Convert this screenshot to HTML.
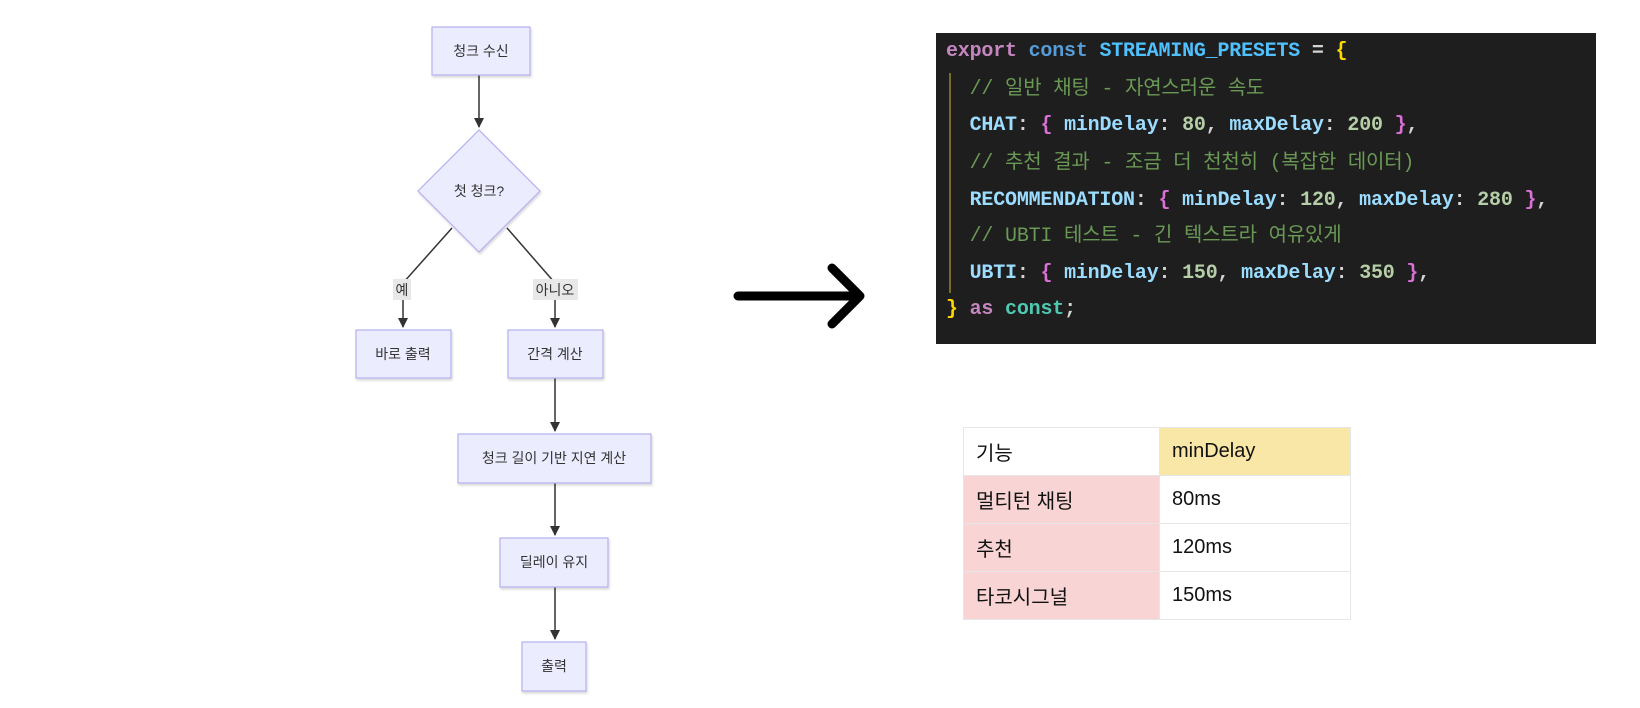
<!DOCTYPE html>
<html><head><meta charset="utf-8"><style>
body{margin:0;width:1640px;height:708px;background:#fff;position:relative;overflow:hidden;font-family:"Liberation Sans","Noto Sans CJK KR",sans-serif}
.code{position:absolute;left:936px;top:33px;width:660px;height:311px;background:#1e1e1e}
.ln{position:absolute;left:10px;font-family:"Liberation Mono","Noto Sans CJK KR",monospace;font-size:20px;font-weight:bold;white-space:pre;line-height:24px;letter-spacing:-0.2px}
.k{color:#c586c0}.c{color:#569cd6}.s{color:#4fc1ff}.p{color:#9cdcfe}.n{color:#b5cea8}.cm{color:#6a9955;font-weight:normal}.y{color:#ffd700}.m{color:#da70d6}.w{color:#d4d4d4}.t{color:#4ec9b0}
table{position:absolute;left:963px;top:427px;border-collapse:collapse;font-family:"Liberation Sans","Noto Sans CJK KR",sans-serif;font-size:20px;color:#111}
td{border:1px solid #e6e6e6;height:48px;padding:0 0 0 12px;box-sizing:border-box}
</style></head><body>
<svg width="1640" height="708" style="position:absolute;left:0;top:0" font-family="Liberation Sans, Noto Sans CJK KR, sans-serif" font-size="14">
<defs><marker id="a" markerWidth="10" markerHeight="10" refX="9" refY="5" orient="auto" markerUnits="userSpaceOnUse"><path d="M0,0L10,5L0,10z" fill="#333"/></marker>
<filter id="sh"><feDropShadow dx="1" dy="2" stdDeviation="1" flood-color="#000" flood-opacity="0.15"/></filter></defs>
<g stroke="#333" stroke-width="1.5" fill="none">
<line x1="479" y1="75" x2="479" y2="127" marker-end="url(#a)"/>
<polyline points="452,228 403,283 403,327" marker-end="url(#a)"/>
<polyline points="507,228 555,283 555,327" marker-end="url(#a)"/>
<line x1="555" y1="378" x2="555" y2="431" marker-end="url(#a)"/>
<line x1="555" y1="483" x2="555" y2="535" marker-end="url(#a)"/>
<line x1="555" y1="587" x2="555" y2="639" marker-end="url(#a)"/>
</g>
<g fill="#ececff" stroke="#b3b0ee" stroke-width="1.2" filter="url(#sh)">
<rect x="432" y="27" width="98" height="48"/>
<polygon points="479,130 540,191 479,252 418,191"/>
<rect x="356" y="330" width="95" height="48"/>
<rect x="508" y="330" width="95" height="48"/>
<rect x="458" y="434" width="193" height="49"/>
<rect x="500" y="538" width="108" height="49"/>
<rect x="522" y="642" width="64" height="49"/>
</g>
<rect x="393" y="279" width="18" height="21" fill="#e8e8e8"/>
<rect x="533" y="279" width="45" height="21" fill="#e8e8e8"/>
<g fill="#333" text-anchor="middle">
<text x="481" y="56">청크 수신</text>
<text x="479" y="196">첫 청크?</text>
<text x="402" y="295">예</text>
<text x="555" y="295">아니오</text>
<text x="403" y="359">바로 출력</text>
<text x="555" y="359">간격 계산</text>
<text x="554" y="463">청크 길이 기반 지연 계산</text>
<text x="554" y="567">딜레이 유지</text>
<text x="554" y="671">출력</text>
</g>
<g stroke="#000" stroke-width="9" stroke-linecap="round" stroke-linejoin="round" fill="none">
<line x1="738" y1="296" x2="858" y2="296"/>
<polyline points="832,268 860,296 832,324"/>
</g>
</svg>
<div class="code">
<div style="position:absolute;left:13px;top:40px;width:2px;height:220px;background:#7a6a2a"></div>
<div class="ln" style="top:7px"><span class="k">export</span> <span class="c">const</span> <span class="s">STREAMING_PRESETS</span> <span class="w">=</span> <span class="y">{</span></div>
<div class="ln" style="top:45px">  <span class="cm">// 일반 채팅 - 자연스러운 속도</span></div>
<div class="ln" style="top:81px">  <span class="p">CHAT</span><span class="w">:</span> <span class="m">{</span> <span class="p">minDelay</span><span class="w">:</span> <span class="n">80</span><span class="w">,</span> <span class="p">maxDelay</span><span class="w">:</span> <span class="n">200</span> <span class="m">}</span><span class="w">,</span></div>
<div class="ln" style="top:119px">  <span class="cm">// 추천 결과 - 조금 더 천천히 (복잡한 데이터)</span></div>
<div class="ln" style="top:156px">  <span class="p">RECOMMENDATION</span><span class="w">:</span> <span class="m">{</span> <span class="p">minDelay</span><span class="w">:</span> <span class="n">120</span><span class="w">,</span> <span class="p">maxDelay</span><span class="w">:</span> <span class="n">280</span> <span class="m">}</span><span class="w">,</span></div>
<div class="ln" style="top:192px">  <span class="cm">// UBTI 테스트 - 긴 텍스트라 여유있게</span></div>
<div class="ln" style="top:229px">  <span class="p">UBTI</span><span class="w">:</span> <span class="m">{</span> <span class="p">minDelay</span><span class="w">:</span> <span class="n">150</span><span class="w">,</span> <span class="p">maxDelay</span><span class="w">:</span> <span class="n">350</span> <span class="m">}</span><span class="w">,</span></div>
<div class="ln" style="top:265px"><span class="y">}</span> <span class="k">as</span> <span class="t">const</span><span class="w">;</span></div>
</div>
<table>
<tr><td style="width:196px;background:#fff">기능</td><td style="width:191px;background:#f9e7a7">minDelay</td></tr>
<tr><td style="background:#f8d4d4">멀티턴 채팅</td><td>80ms</td></tr>
<tr><td style="background:#f8d4d4">추천</td><td>120ms</td></tr>
<tr><td style="background:#f8d4d4">타코시그널</td><td>150ms</td></tr>
</table>
</body></html>
